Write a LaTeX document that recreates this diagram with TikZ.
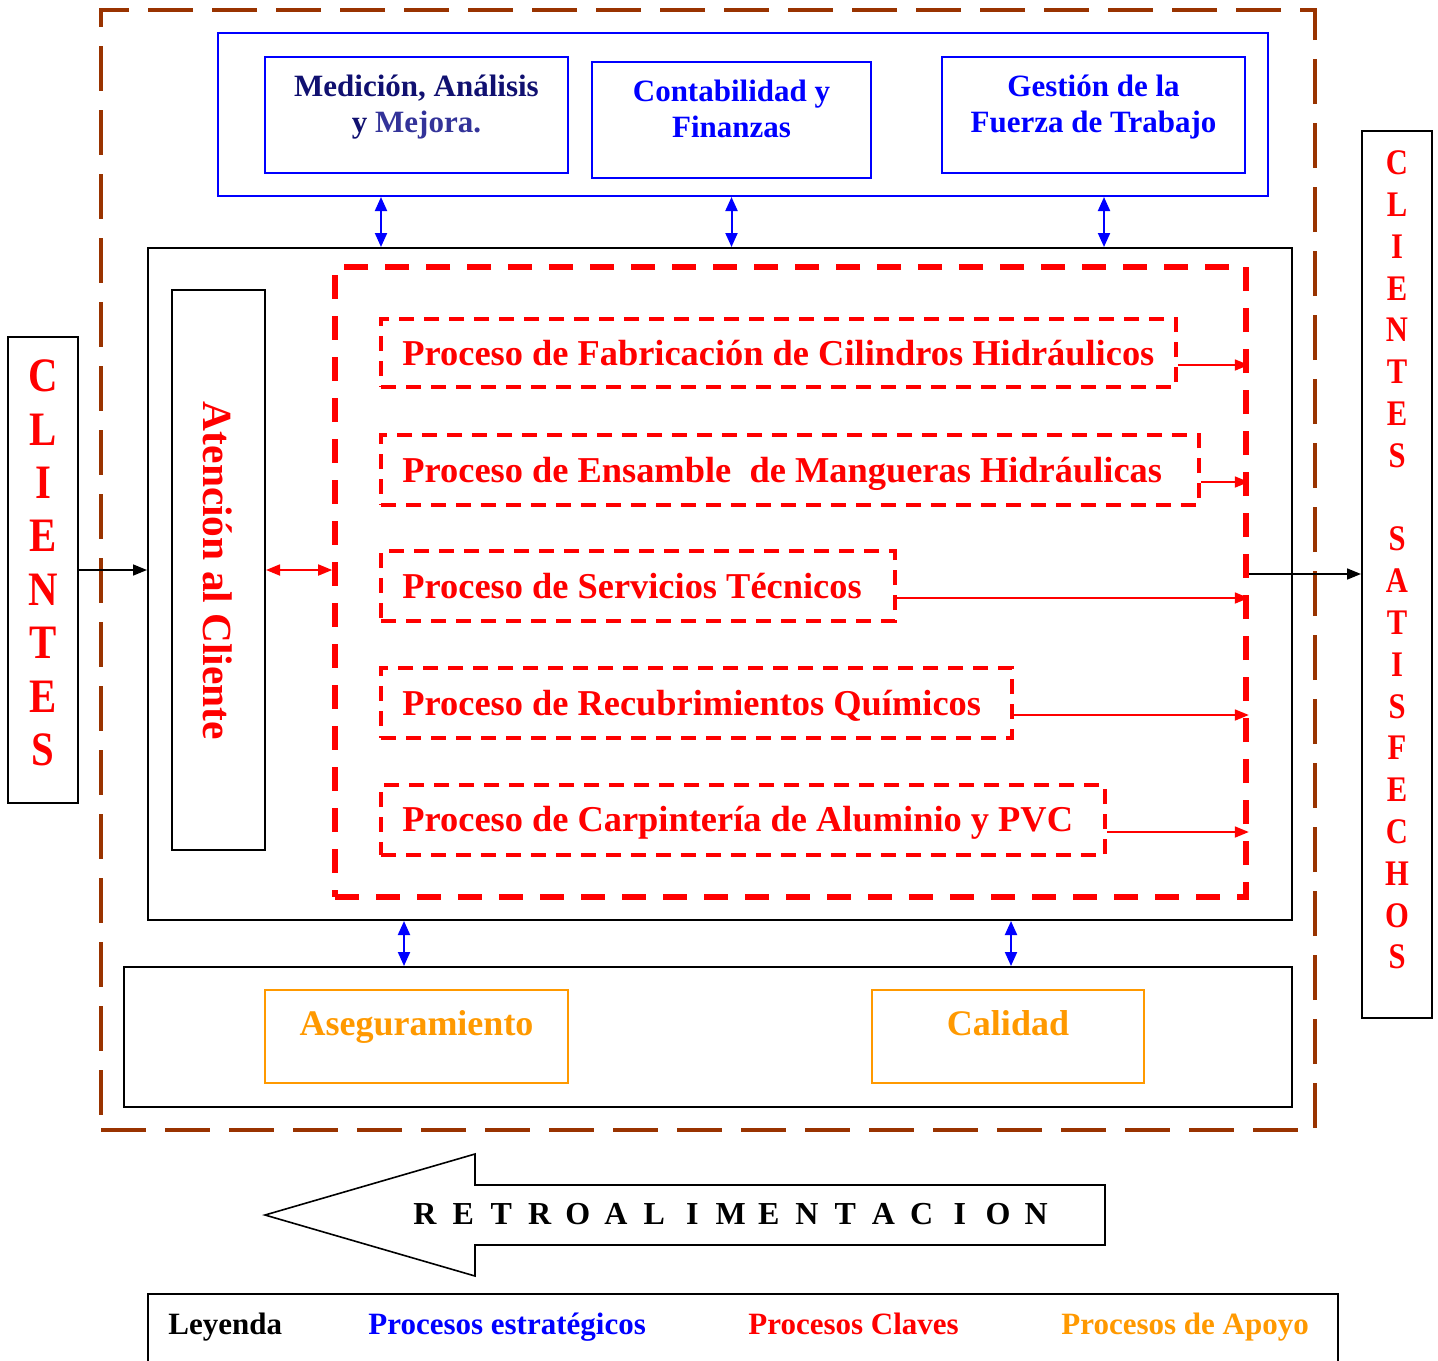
\documentclass[tikz,border=0pt]{standalone}
\usepackage{fontspec}
\setmainfont{Liberation Serif}
\newfontfamily\narrowfont{Liberation Serif}[FakeStretch=0.85]
\usetikzlibrary{fit,arrows.meta}

\definecolor{rojo}{RGB}{255,0,0}
\definecolor{azul}{RGB}{0,0,255}
\definecolor{marino}{RGB}{16,16,112}
\definecolor{marinoclaro}{RGB}{51,51,153}
\definecolor{naranja}{RGB}{255,153,0}
\definecolor{cafe}{RGB}{153,51,0}

\tikzset{
  every node/.style={font=\bfseries},
  frame/.style={inner sep=0pt, draw, line width=1pt},
  blackframe/.style={frame, draw=black},
  blueframe/.style={frame, draw=azul},
  orangeframe/.style={frame, draw=naranja},
  brownframe/.style={inner sep=0pt, draw=cafe, line width=2.4pt, dash pattern=on 22.5pt off 9.5pt},
  keyframe/.style={inner sep=0pt, draw=rojo, line width=2.8pt, dash pattern=on 12pt off 8.5pt},
  procframe/.style={inner sep=0pt, draw=rojo, line width=2pt, dash pattern=on 7.5pt off 5pt},
  proctext/.style={anchor=base west, inner sep=0pt, text=rojo, font=\bfseries\fontsize{18.2}{20}\selectfont},
  toptext/.style={align=center, inner sep=0pt, font=\bfseries\fontsize{15.5}{18}\selectfont},
  legtext/.style={anchor=base west, inner sep=0pt, font=\bfseries\fontsize{15.5}{18}\selectfont},
  suptext/.style={anchor=base, inner sep=0pt, text=naranja, font=\bfseries\fontsize{18}{20}\selectfont},
  bluelink/.style={azul, line width=1pt, {Triangle[length=7pt,width=6pt]}-{Triangle[length=7pt,width=6pt]}},
  redlink/.style={rojo, line width=0.9pt, -{Triangle[length=7pt,width=5.5pt]}},
  redboth/.style={rojo, line width=0.9pt, {Triangle[length=7pt,width=5.5pt]}-{Triangle[length=7pt,width=5.5pt]}},
  blacklink/.style={black, line width=0.8pt, -{Triangle[length=7pt,width=5.5pt]}},
}

\begin{document}
\begin{tikzpicture}[x=0.5pt,y=-0.5pt]
\useasboundingbox (0,0) rectangle (1438,1360);

% organisation boundary
\node[brownframe, fit={(101,10)(1315,1130)}] (org) {};

% strategic processes
\node[blueframe, fit={(218,33)(1268,196)}] (strat) {};
\node[blueframe, fit={(265,57)(568,173)}] (med) {};
\node[blueframe, fit={(592,62)(871,178)}] (cont) {};
\node[blueframe, fit={(942,57)(1245,173)}] (gest) {};
\node[toptext] (medt) at (416.5,107) {\textcolor{marino}{Medición, Análisis}\\\textcolor{marino}{y} \textcolor{marinoclaro}{Mejora.}};
\node[toptext, text=azul] (contt) at (731.5,109) {Contabilidad y\\Finanzas};
\node[toptext, text=azul] (gestt) at (1093.5,107.5) {Gestión de la\\Fuerza de Trabajo};

% core block
\node[blackframe, fit={(148,248)(1292,920)}] (core) {};
\node[blackframe, fit={(172,290)(265,850)}] (aten) {};
\node[rotate=-90, text=rojo, font=\bfseries\fontsize{20.7}{22}\selectfont] (atent) at (218,571) {Atención al Cliente};

% key processes
\node[keyframe, fit={(335,267)(1246,897)}] (kp) {};
\node[procframe, fit={(381,319)(1176,387)}] (p1) {};
\node[procframe, fit={(381,435)(1199,505)}] (p2) {};
\node[procframe, fit={(381,551)(895,621)}] (p3) {};
\node[procframe, fit={(381,668)(1012,738)}] (p4) {};
\node[procframe, fit={(381,785)(1105,855)}] (p5) {};
\node[proctext] (t1) at (402,365) {Proceso de Fabricación de Cilindros Hidráulicos};
\node[proctext] (t2) at (402,482) {Proceso de Ensamble\ \ de Mangueras Hidráulicas};
\node[proctext] (t3) at (402,598) {Proceso de Servicios Técnicos};
\node[proctext] (t4) at (402,715) {Proceso de Recubrimientos Químicos};
\node[proctext] (t5) at (402,831) {Proceso de Carpintería de Aluminio y PVC};

% support processes
\node[blackframe, fit={(124,967)(1292,1107)}] (sup) {};
\node[orangeframe, fit={(265,990)(568,1083)}] (aseg) {};
\node[orangeframe, fit={(872,990)(1144,1083)}] (cal) {};
\node[suptext] (asegt) at (416.5,1035) {Aseguramiento};
\node[suptext] (calt) at (1008,1035) {Calidad};

% customers
\node[blackframe, fit={(8,337)(78,803)}] (cli) {};
\foreach \l [count=\i from 0] in {C,L,I,E,N,T,E,S}
  \node[text=rojo, inner sep=0pt, font=\narrowfont\bfseries\fontsize{24}{24}\selectfont] (cl\i) at (43,376+\i*53.4) {\l};
\node[blackframe, fit={(1362,131)(1432,1018)}] (sat) {};
\foreach \l [count=\i from 0] in {C,L,I,E,N,T,E,S,{},S,A,T,I,S,F,E,C,H,O,S}
  \node[text=rojo, inner sep=0pt, font=\narrowfont\bfseries\fontsize{18}{18}\selectfont] (sa\i) at (1397,163+\i*41.8) {\l};

% link positions
\coordinate (xa) at (381,0);
\coordinate (xb) at (731.5,0);
\coordinate (xc) at (1104,0);
\coordinate (xd) at (404,0);
\coordinate (xe) at (1011,0);

\draw[bluelink] (strat.south -| xa) -- (core.north -| xa);
\draw[bluelink] (strat.south -| xb) -- (core.north -| xb);
\draw[bluelink] (strat.south -| xc) -- (core.north -| xc);
\draw[bluelink] (core.south -| xd) -- (sup.north -| xd);
\draw[bluelink] (core.south -| xe) -- (sup.north -| xe);

\foreach \k in {1,...,5} {
  \path ([yshift=-6pt]p\k.east) coordinate (o\k);
  \draw[redlink] (o\k) -- (o\k -| kp.east);
}
\draw[redboth] (aten.east) -- (aten.east -| kp.west);
\draw[blacklink] (cli.east) -- (cli.east -| core.west);
\path ([yshift=4pt]kp.east) coordinate (out);
\draw[blacklink] (out) -- (out -| sat.west);

% feedback arrow
\draw[line width=0.8pt, fill=white] (265,1215) -- (475,1154) -- (475,1185) -- (1105,1185)
  -- (1105,1245) -- (475,1245) -- (475,1276) -- cycle;
\foreach \l [count=\i from 0] in {R,E,T,R,O,A,L,I,M,E,N,T,A,C,I,O,N}
  \node[anchor=base, inner sep=0pt, font=\bfseries\fontsize{16}{18}\selectfont] (r\i) at (425+\i*38.2,1224) {\l};

% legend
\node[blackframe, fit={(148,1294)(1338,1385)}] (ley) {};
\node[legtext] (l0) at (168,1334) {Leyenda};
\node[legtext, text=azul] (l1) at (368,1334) {Procesos estratégicos};
\node[legtext, text=rojo] (l2) at (748,1334) {Procesos Claves};
\node[legtext, text=naranja] (l3) at (1061,1334) {Procesos de Apoyo};
\end{tikzpicture}
\end{document}
